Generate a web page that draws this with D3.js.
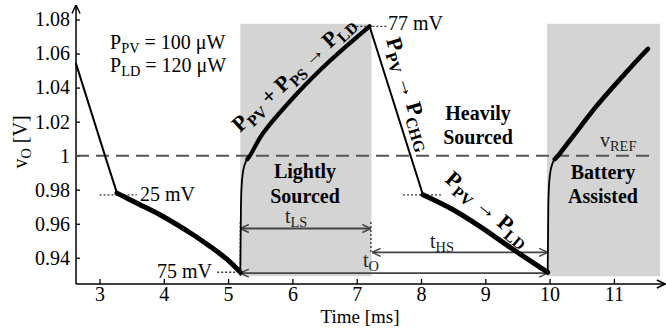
<!DOCTYPE html>
<html lang="en">
<head>
<meta charset="utf-8" />
<title>vO vs time</title>
<script src="https://cdn.jsdelivr.net/npm/d3@7"></script>
<style>
  body { margin: 0; background: #ffffff; }
  svg { display: block; font-family: "Liberation Serif", "Times New Roman", serif; }
</style>
</head>
<body>
<svg width="666" height="330"></svg>
<script>
// ticks
var xTicks = [3, 4, 5, 6, 7, 8, 9, 10, 11];
var yTicks = [0.94, 0.96, 0.98, 1, 1.02, 1.04, 1.06, 1.08];
var yTickLabels = ["0.94", "0.96", "0.98", "1", "1.02", "1.04", "1.06", "1.08"];

// trace pieces (time in ms, vO in V)
var tDrop1 = [2.635, 3.085, 3.272];
var vDrop1 = [1.054, 1.0, 0.978];
var tSag1 = [3.272, 3.6, 3.94, 4.45, 4.7, 4.98, 5.19];
var vSag1 = [0.978, 0.9718, 0.9653, 0.9537, 0.9472, 0.9392, 0.9315];
var tJump1 = [5.19, 5.195, 5.2, 5.21, 5.23, 5.26, 5.30];
var vJump1 = [0.9315, 0.95, 0.97, 0.982, 0.99, 0.995, 0.998];
var tRise1 = [5.30, 5.34, 5.54, 6.07, 6.58, 7.2];
var vRise1 = [0.998, 1.0, 1.013, 1.0364, 1.0556, 1.076];
var tDrop2 = [7.2, 8.03];
var vDrop2 = [1.076, 0.977];
var tSag2 = [8.03, 8.5, 8.92, 9.43, 9.97];
var vSag2 = [0.977, 0.9682, 0.9583, 0.945, 0.9315];
var tJump2 = [9.97, 9.975, 9.98, 9.99, 10.01, 10.04, 10.08];
var vJump2 = [0.9315, 0.95, 0.97, 0.982, 0.99, 0.995, 0.998];
var tRise2 = [10.08, 10.13, 10.32, 10.74, 11.25, 11.53];
var vRise2 = [0.998, 1.0, 1.0092, 1.0296, 1.0514, 1.0627];

// shaded modes
var shadeStart = [5.19, 9.96];
var shadeEnd = [7.23, 11.72];
var shadeTop = 1.0775, shadeBottom = 0.9292;
var vRef = 1.0;

var svg = d3.select("svg");
var x = d3.scaleLinear().domain([3, 11]).range([99.5, 613.9]);
var y = d3.scaleLinear().domain([0.94, 1.08]).range([257.8, 19.5]);
var xLo = 2.635, xHi = 11.8, yLo = 0.9246, yHi = 1.0885;

var defs = svg.append("defs");
function chevron(id, color) {
  defs.append("marker").attr("id", id)
    .attr("viewBox", "0 0 10 10").attr("refX", 9.5).attr("refY", 5)
    .attr("markerWidth", 10).attr("markerHeight", 10)
    .attr("markerUnits", "userSpaceOnUse")
    .attr("orient", "auto-start-reverse")
    .append("path").attr("d", "M1,1 L9.5,5 L1,9")
    .attr("fill", "none").attr("stroke", color).attr("stroke-width", 1.5);
}
chevron("arr", "#444");
chevron("axarr", "#000");

// shading
svg.selectAll("rect.shade").data(shadeStart).enter().append("rect")
  .attr("class", "shade")
  .attr("x", function(d) { return x(d); })
  .attr("y", y(shadeTop))
  .attr("width", function(d, i) { return x(shadeEnd[i]) - x(d); })
  .attr("height", y(shadeBottom) - y(shadeTop))
  .attr("fill", "#d4d4d4");

// axes
var gx = svg.append("g").attr("transform", "translate(0," + y(yLo) + ")")
  .call(d3.axisBottom(x).tickValues(xTicks).tickSize(-5).tickPadding(3).tickFormat(d3.format("d")));
var gy = svg.append("g").attr("transform", "translate(" + x(xLo) + ",0)")
  .call(d3.axisLeft(y).tickValues(yTicks).tickSize(-4).tickPadding(6)
    .tickFormat(function(d, i) { return yTickLabels[i]; }));
[gx, gy].forEach(function(g) {
  g.select(".domain").remove();
  g.attr("font-family", null).attr("font-size", 20);
  g.selectAll("line").attr("stroke", "#000").attr("stroke-width", 1.3);
  g.selectAll("text").attr("fill", "#000");
});
svg.append("line").attr("x1", x(xLo)).attr("x2", x(xHi)).attr("y1", y(yLo)).attr("y2", y(yLo))
  .attr("stroke", "#000").attr("stroke-width", 1.5).attr("marker-end", "url(#axarr)");
svg.append("line").attr("x1", x(xLo)).attr("x2", x(xLo)).attr("y1", y(yLo)).attr("y2", y(yHi))
  .attr("stroke", "#000").attr("stroke-width", 1.5).attr("marker-end", "url(#axarr)");

// reference line
svg.append("line").attr("x1", x(xLo)).attr("x2", x(11.55)).attr("y1", y(vRef)).attr("y2", y(vRef))
  .attr("stroke", "#555").attr("stroke-width", 2).attr("stroke-dasharray", "13,7");

// dotted guides
function dotted(t1, v1, t2, v2) {
  svg.append("line").attr("x1", x(t1)).attr("y1", y(v1)).attr("x2", x(t2)).attr("y2", y(v2))
    .attr("stroke", "#333").attr("stroke-width", 1.3).attr("stroke-dasharray", "2,2");
}
dotted(3.0, 0.977, 3.58, 0.977);
dotted(7.72, 0.977, 8.33, 0.977);
dotted(4.83, 0.9315, 5.19, 0.9315);
dotted(6.87, 1.076, 7.47, 1.076);
dotted(5.19, 0.961, 5.19, 0.9292);
dotted(7.22, 0.961, 7.22, 0.9432);

// time arrows
function span(t1, t2, v) {
  svg.append("line").attr("x1", x(t1)).attr("x2", x(t2)).attr("y1", y(v)).attr("y2", y(v))
    .attr("stroke", "#444").attr("stroke-width", 1.8)
    .attr("marker-start", "url(#arr)").attr("marker-end", "url(#arr)");
}
span(5.19, 7.22, 0.9572);
span(7.24, 9.97, 0.9432);
span(5.19, 9.97, 0.931);

// trace
var line = d3.line().x(function(d) { return x(d[0]); }).y(function(d) { return y(d[1]); })
  .curve(d3.curveMonotoneX);
var smooth = d3.line().x(function(d) { return x(d[0]); }).y(function(d) { return y(d[1]); })
  .curve(d3.curveCatmullRom.alpha(0.5));
function trace(ts, vs, w, gen) {
  svg.append("path").datum(d3.zip(ts, vs)).attr("d", gen || line)
    .attr("fill", "none").attr("stroke", "#000").attr("stroke-width", w)
    .attr("stroke-linejoin", "round").attr("stroke-linecap", "round");
}
trace(tDrop1, vDrop1, 2);
trace(tSag1, vSag1, 5, smooth);
trace(tJump1, vJump1, 1.8);
trace(tRise1, vRise1, 4.2, smooth);
trace(tDrop2, vDrop2, 2);
trace(tSag2, vSag2, 5, smooth);
trace(tJump2, vJump2, 1.8);
trace(tRise2, vRise2, 4.6, smooth);

// text helper: parts = [[string, isSub], ...]
function label(px, py, parts, opts) {
  opts = opts || {};
  var t = svg.append("text").attr("x", px).attr("y", py)
    .attr("font-size", opts.size || 20)
    .attr("font-weight", opts.bold ? "bold" : null)
    .attr("text-anchor", opts.anchor || "start")
    .attr("fill", opts.color || "#000");
  if (opts.rotate) t.attr("transform", "rotate(" + opts.rotate + "," + px + "," + py + ")");
  var sub = opts.sub || 4;
  var down = false;
  parts.forEach(function(p) {
    var s = t.append("tspan").text(p[0]);
    if (p[1] && !down) { s.attr("font-size", "0.72em").attr("dy", sub); down = true; }
    else if (p[1]) { s.attr("font-size", "0.72em"); }
    else if (down) { s.attr("dy", -sub); down = false; }
  });
  return t;
}

label(110, 49, [["P"], ["PV", 1], [" = 100 \u03bcW"]]);
label(110, 72, [["P"], ["LD", 1], [" = 120 \u03bcW"]]);
label(140, 201, [["25 mV"]]);
label(212, 278, [["75 mV"]], { anchor: "end" });
label(388, 30, [["77 mV"]]);
label(285, 223, [["t"], ["LS", 1]], { color: "#222" });
label(430, 248, [["t"], ["HS", 1]], { color: "#222" });
label(363, 267, [["t"], ["O", 1]], { color: "#222" });
label(600, 147, [["v"], ["REF", 1]], { color: "#222" });

label(305, 178, [["Lightly"]], { bold: true, anchor: "middle" });
label(305, 203, [["Sourced"]], { bold: true, anchor: "middle" });
label(478, 120, [["Heavily"]], { bold: true, anchor: "middle" });
label(478, 144, [["Sourced"]], { bold: true, anchor: "middle" });
label(603, 179, [["Battery"]], { bold: true, anchor: "middle" });
label(603, 203, [["Assisted"]], { bold: true, anchor: "middle" });

label(240, 133, [["P"], ["PV", 1], [" + P"], ["PS", 1], [" \u2192 P"], ["LD", 1]],
  { bold: true, rotate: -43, size: 22, sub: 5 });
label(386, 40, [["P"], ["PV", 1], ["  \u2192 P"], ["CHG", 1]],
  { bold: true, rotate: 73, size: 22, sub: 5 });
label(444, 181, [["P"], ["PV", 1], ["   \u2192 P"], ["LD", 1]],
  { bold: true, rotate: 40, size: 22, sub: 5 });

// axis titles
label(360, 322.5, [["Time [ms]"]], { anchor: "middle", size: 19 });
label(27, 142, [["v"], ["O", 1], [" [V]"]], { anchor: "middle", rotate: -90 });
</script>
</body>
</html>
